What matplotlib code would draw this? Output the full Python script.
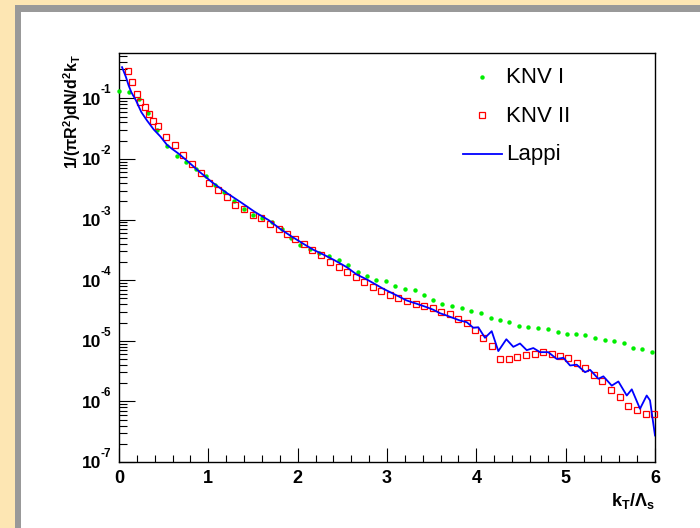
import matplotlib
matplotlib.use('Agg')
import matplotlib.pyplot as plt
from matplotlib.patches import Rectangle
from matplotlib.lines import Line2D
from matplotlib.transforms import blended_transform_factory, offset_copy
from matplotlib.ticker import LogLocator, MultipleLocator, NullFormatter, FixedLocator

plt.rcParams['font.family'] = ['Liberation Sans', 'DejaVu Sans']
plt.rcParams['mathtext.fontset'] = 'custom'
plt.rcParams['mathtext.rm'] = 'Liberation Sans:bold'
plt.rcParams['mathtext.it'] = 'Liberation Sans:bold'
plt.rcParams['mathtext.bf'] = 'Liberation Sans:bold'
plt.rcParams['mathtext.sf'] = 'Liberation Sans:bold'
plt.rcParams['mathtext.default'] = 'rm'

# ---------------- data ----------------
knv1_x = [0.00, 0.11, 0.22, 0.33, 0.43, 0.54, 0.65, 0.75, 0.86, 0.97,
          1.07, 1.18, 1.29, 1.40, 1.50, 1.60, 1.71, 1.82, 1.92, 2.03,
          2.14, 2.24, 2.35, 2.46, 2.56, 2.67, 2.78, 2.88, 2.99, 3.09,
          3.20, 3.31, 3.41, 3.52, 3.62, 3.73, 3.84, 3.94, 4.05, 4.16,
          4.27, 4.37, 4.48, 4.58, 4.69, 4.80, 4.91, 5.01, 5.12, 5.22,
          5.33, 5.44, 5.54, 5.65, 5.75, 5.86, 5.97]
knv1_y = [1.33e-1, 1.26e-1, 9.84e-2, 5.70e-2, 3.03e-2, 1.65e-2, 1.14e-2, 8.85e-3, 6.89e-3, 5.14e-3,
          3.75e-3, 2.88e-3, 2.00e-3, 1.52e-3, 1.20e-3, 1.05e-3, 9.06e-4, 6.87e-4, 4.88e-4, 3.84e-4,
          3.21e-4, 2.79e-4, 2.46e-4, 2.17e-4, 1.75e-4, 1.38e-4, 1.16e-4, 9.89e-5, 9.62e-5, 7.87e-5,
          7.21e-5, 6.76e-5, 5.74e-5, 4.75e-5, 4.08e-5, 3.68e-5, 3.45e-5, 3.13e-5, 2.90e-5, 2.40e-5,
          2.22e-5, 2.06e-5, 1.75e-5, 1.70e-5, 1.64e-5, 1.58e-5, 1.39e-5, 1.31e-5, 1.27e-5, 1.26e-5,
          1.12e-5, 1.04e-5, 1.00e-5, 9.02e-6, 7.46e-6, 7.38e-6, 6.41e-6]

knv2_x = [0.10, 0.15, 0.20, 0.24, 0.29, 0.34, 0.38, 0.44,
          0.53, 0.63, 0.72, 0.82, 0.92, 1.01, 1.11, 1.21, 1.30, 1.40,
          1.50, 1.59, 1.69, 1.79, 1.88, 1.97, 2.07, 2.16, 2.26, 2.36,
          2.46, 2.55, 2.65, 2.74, 2.84, 2.93, 3.03, 3.12, 3.22, 3.32,
          3.41, 3.51, 3.60, 3.70, 3.80, 3.89, 3.99, 4.08, 4.18, 4.27,
          4.37, 4.46, 4.56, 4.66, 4.75, 4.85, 4.94, 5.03, 5.13, 5.22,
          5.32, 5.41, 5.51, 5.61, 5.70, 5.80, 5.90, 5.99]
knv2_y = [2.88e-1, 1.85e-1, 1.16e-1, 8.65e-2, 7.16e-2, 5.57e-2, 4.16e-2, 3.44e-2,
          2.29e-2, 1.69e-2, 1.16e-2, 8.20e-3, 5.83e-3, 4.05e-3, 3.05e-3, 2.32e-3, 1.77e-3, 1.51e-3,
          1.18e-3, 1.05e-3, 8.36e-4, 6.95e-4, 5.75e-4, 4.85e-4, 3.88e-4, 3.13e-4, 2.59e-4, 1.98e-4,
          1.62e-4, 1.34e-4, 1.11e-4, 9.16e-5, 7.67e-5, 6.58e-5, 5.60e-5, 4.99e-5, 4.50e-5, 3.97e-5,
          3.80e-5, 3.41e-5, 3.03e-5, 2.75e-5, 2.27e-5, 1.93e-5, 1.48e-5, 1.12e-5, 8.26e-6, 4.97e-6,
          4.97e-6, 5.36e-6, 5.75e-6, 6.14e-6, 6.49e-6, 6.10e-6, 5.71e-6, 5.20e-6, 4.34e-6, 3.49e-6,
          2.76e-6, 2.15e-6, 1.57e-6, 1.16e-6, 8.55e-7, 7.13e-7, 6.19e-7, 6.08e-7]

lappi_x = [0.034, 0.078, 0.108, 0.138, 0.19, 0.25, 0.313, 0.388, 0.463, 0.537,
           0.593, 0.668, 0.780, 0.892, 1.041, 1.209, 1.377, 1.526, 1.676, 1.802,
           1.914, 2.063, 2.175, 2.287, 2.418, 2.549, 2.661, 2.773, 2.959, 3.109,
           3.221, 3.333, 3.445, 3.519, 3.593, 3.668, 3.817, 3.892, 3.966, 4.022,
           4.097, 4.172, 4.246, 4.336, 4.414, 4.489, 4.564, 4.638, 4.713, 4.806,
           4.900, 4.975, 5.049, 5.124, 5.217, 5.273, 5.366, 5.422, 5.516, 5.590,
           5.684, 5.740, 5.832, 5.907, 5.944, 6.0]
lappi_y = [3.27e-1, 2.24e-1, 1.63e-1, 1.26e-1, 9.23e-2, 5.92e-2, 4.32e-2, 3.07e-2, 2.35e-2, 1.71e-2,
           1.47e-2, 1.22e-2, 8.85e-3, 6.30e-3, 4.14e-3, 2.73e-3, 1.87e-3, 1.32e-3, 9.77e-4, 7.05e-4,
           5.47e-4, 3.99e-4, 3.18e-4, 2.65e-4, 2.11e-4, 1.64e-4, 1.24e-4, 1.03e-4, 7.21e-5, 5.60e-5,
           4.62e-5, 4.08e-5, 3.58e-5, 3.25e-5, 2.85e-5, 2.61e-5, 2.16e-5, 2.03e-5, 1.64e-5, 1.67e-5,
           1.12e-5, 1.44e-5, 6.76e-6, 1.06e-5, 7.94e-6, 9.02e-6, 7.00e-6, 7.59e-6, 6.49e-6, 6.49e-6,
           5.01e-6, 5.24e-6, 3.91e-6, 4.03e-6, 3.03e-6, 3.32e-6, 2.36e-6, 2.59e-6, 1.82e-6, 2.13e-6,
           1.25e-6, 1.58e-6, 7.55e-7, 1.25e-6, 1.04e-6, 2.74e-7]

legend_labels = ['KNV I', 'KNV II', 'Lappi']
x_ticks = [0, 1, 2, 3, 4, 5, 6]
y_decades = [-7, -6, -5, -4, -3, -2, -1]

# ---------------- figure ----------------
W, H = 700, 528
fig = plt.figure(figsize=(W / 100, H / 100), dpi=100)
fig.patch.set_facecolor('#FDE6B3')

def fx(px):
    return px / W

def fy(py):
    return 1 - py / H

# canvas bevel and white pad
fig.add_artist(Rectangle((fx(15), 0), 1, fy(5), transform=fig.transFigure,
                         facecolor='#999999', edgecolor='none', zorder=-3))
fig.add_artist(Rectangle((fx(21), 0), 1, fy(12), transform=fig.transFigure,
                         facecolor='white', edgecolor='none', zorder=-2))

L, R, T, B = 119, 655, 53, 462
ax = fig.add_axes([fx(L), fy(B), (R - L) / W, (B - T) / H])
ax.set_facecolor('none')

ax.plot(knv1_x, knv1_y, linestyle='none', marker='o', markersize=3.2,
        color='#00EE00', markeredgewidth=0, zorder=3, clip_on=False)
ax.plot(knv2_x, knv2_y, linestyle='none', marker='s', markersize=4.2,
        markerfacecolor='none', markeredgecolor='#FF0000', markeredgewidth=0.9,
        zorder=4, clip_on=False)
ax.plot(lappi_x, lappi_y, color='#0000FF', linewidth=1.3, zorder=5)

ax.set_xlim(0, 6)
ax.set_yscale('log')
ax.set_ylim(1e-7, 0.56)

for s in ax.spines.values():
    s.set_linewidth(1.0)
    s.set_color('black')

ax.xaxis.set_major_locator(FixedLocator(x_ticks))
ax.xaxis.set_minor_locator(MultipleLocator(0.2))
ax.yaxis.set_major_locator(LogLocator(base=10, numticks=20))
ax.yaxis.set_minor_locator(LogLocator(base=10, subs=[2, 3, 4, 5, 6, 7, 8, 9], numticks=20))
ax.yaxis.set_major_formatter(NullFormatter())
ax.yaxis.set_minor_formatter(NullFormatter())

ax.tick_params(axis='both', which='both', direction='in', top=False, right=False, width=0.8)
ax.tick_params(axis='x', which='major', length=10, pad=5.5, labelsize=13)
ax.tick_params(axis='x', which='minor', length=5)
ax.tick_params(axis='y', which='major', length=11.5)
ax.tick_params(axis='y', which='minor', length=5.8)
ax.set_xticklabels([str(v) for v in x_ticks], fontweight='bold')

# y tick labels in ROOT style: bold "10" with raised exponent
blend = blended_transform_factory(ax.transAxes, ax.transData)
for e in y_decades:
    t10 = offset_copy(blend, fig=fig, x=-18, y=-6.5, units='dots')
    ax.text(0, 10.0 ** e, '10', transform=t10, ha='right', va='baseline',
            fontsize=12.5, fontweight='bold', clip_on=False)
    texp = offset_copy(blend, fig=fig, x=-18.5, y=5, units='dots')
    ax.text(0, 10.0 ** e, str(e), transform=texp, ha='left', va='baseline',
            fontsize=8.5, fontweight='bold', clip_on=False)

# axis titles
fig.text(fx(655), fy(506), r'$k_{T}/\Lambda_{s}$', ha='right', va='baseline', fontsize=13)
fig.text(fx(78), fy(54), r'$1/(\pi R^{2})dN/d^{2}k_{T}$', rotation=90,
         rotation_mode='anchor', ha='right', va='baseline', fontsize=11.5)

# legend (borderless, ROOT style)
handles = [
    Line2D([fx(482)], [fy(77)], linestyle='none', marker='o', markersize=3.2,
           color='#00EE00', markeredgewidth=0, transform=fig.transFigure),
    Line2D([fx(482)], [fy(115)], linestyle='none', marker='s', markersize=4.2,
           markerfacecolor='none', markeredgecolor='#FF0000', markeredgewidth=0.9,
           transform=fig.transFigure),
    Line2D([fx(463), fx(502)], [fy(154), fy(154)], color='#0000FF', linewidth=1.3,
           transform=fig.transFigure),
]
for h in handles:
    fig.add_artist(h)
for lab, base in zip(legend_labels, [83, 121.5, 160]):
    fig.text(fx(506), fy(base), lab, ha='left', va='baseline', fontsize=16)

fig.savefig('out.png', dpi=100, facecolor=fig.get_facecolor())
